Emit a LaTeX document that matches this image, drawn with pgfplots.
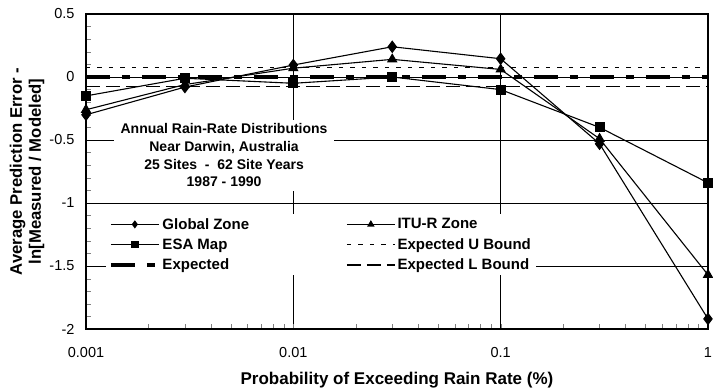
\documentclass[border=0pt]{standalone}
\usepackage{pgfplots}
\pgfplotsset{compat=1.18}
\usepackage{fontspec}
\setmainfont{Liberation Sans}

\begin{document}
\begin{tikzpicture}
\begin{axis}[
  scale only axis,
  width=622bp, height=315bp,
  xmode=log,
  xmin=0.001, xmax=1,
  ymin=-2, ymax=0.5,
  xtick={0.001,0.01,0.1,1},
  xticklabels={0.001,0.01,0.1,1},
  ytick={-2,-1.5,-1,-0.5,0,0.5},
  yticklabels={-2,-1.5,-1,-0.5,0,0.5},
  minor y tick num=4,
  tick align=inside,
  tick pos=left,
  major tick length=0pt,
  minor tick length=5bp,
  grid=major,
  grid style={black, line width=0.6bp},
  axis line style={line width=1.3bp},
  ticklabel style={font=\fontsize{14.5bp}{16bp}\selectfont},
  xticklabel style={anchor=base, yshift=-28bp},
  yticklabel style={anchor=east, xshift=-8bp},
  xlabel={\bfseries Probability of Exceeding Rain Rate (\%)},
  ylabel={\bfseries Average Prediction Error -\\ \bfseries ln[Measured / Modeled]},
  ylabel style={at={(rel axis cs:-0.0948,0.5)}, anchor=center, rotate=0,
    align=center, font=\fontsize{16.7bp}{19bp}\selectfont},
  xlabel style={at={(rel axis cs:0.5,0)}, anchor=base, yshift=-55bp,
    font=\fontsize{17bp}{19bp}\selectfont},
  legend columns=2,
  legend cell align=left,
  legend style={
    at={(rel axis cs:0.0322,0.365)}, anchor=north west,
    draw=none, fill=white,
    font=\fontsize{15bp}{17bp}\selectfont\bfseries,
    row sep=4bp,
    /tikz/column 2/.style={column sep=95bp},
  },
  legend image code/.code={%
    \draw[mark repeat=2,mark phase=2,#1, mark size=3.2bp] plot coordinates {(0bp,0bp) (24bp,0bp) (48bp,0bp)};},
]

\addplot[black, line width=1.1bp, mark=diamond*, mark size=5.5bp, mark options={solid}] coordinates {
  (0.001,-0.30) (0.003,-0.08) (0.01,0.095) (0.03,0.24) (0.1,0.145) (0.3,-0.53) (1,-1.92)
};
\addlegendentry{Global Zone}

\addplot[black, line width=1.1bp, mark=triangle*, mark size=5bp, mark options={solid}] coordinates {
  (0.001,-0.26) (0.003,-0.06) (0.01,0.07) (0.03,0.14) (0.1,0.06) (0.3,-0.49) (1,-1.57)
};
\addlegendentry{ITU-R Zone}

\addplot[black, line width=1.1bp, mark=square*, mark size=4.5bp, mark options={solid}] coordinates {
  (0.001,-0.15) (0.003,-0.01) (0.01,-0.05) (0.03,0.0) (0.1,-0.10) (0.3,-0.40) (1,-0.84)
};
\addlegendentry{ESA Map}

\addplot[black, line width=1.4bp, dash pattern=on 4.5bp off 7bp] coordinates {
  (0.001,0.075) (1,0.075)
};
\addlegendentry{Expected U Bound}

\addplot[black, line width=3.3bp, dash pattern=on 24bp off 12bp on 8bp off 12bp] coordinates {
  (0.001,0) (1,0)
};
\addlegendentry{Expected}

\addplot[black, line width=1.4bp, dash pattern=on 14bp off 6bp] coordinates {
  (0.001,-0.075) (1,-0.075)
};
\addlegendentry{Expected L Bound}

\node[fill=white, align=center, inner xsep=6.5bp, inner ysep=4bp,
  font=\fontsize{14bp}{17.7bp}\selectfont\bfseries]
  at (rel axis cs:0.222,0.551)
  {Annual Rain-Rate Distributions\\Near Darwin, Australia\\25 Sites\ \ -\ \ 62 Site Years\\1987 - 1990};
\end{axis}
\pgfresetboundingbox
\path[use as bounding box] ([xshift=-86bp,yshift=-61bp]current axis.south west)
  rectangle ([xshift=5bp,yshift=14bp]current axis.north east);
\end{tikzpicture}
\end{document}
